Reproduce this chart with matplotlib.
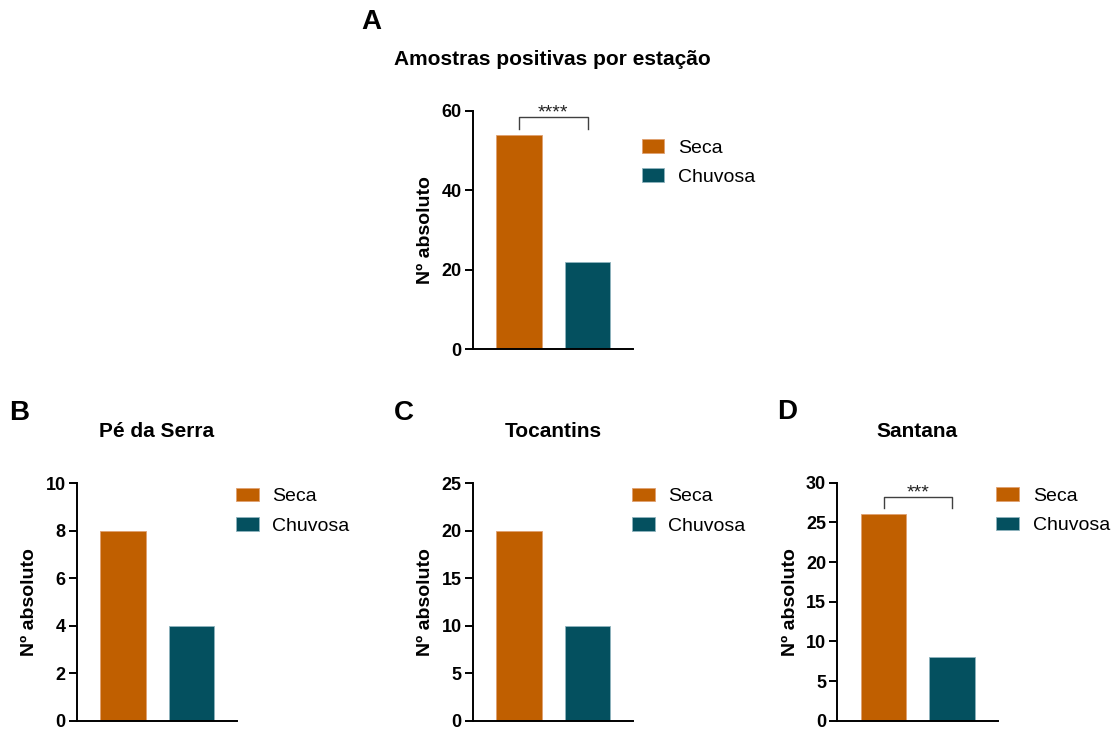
import matplotlib
matplotlib.use("Agg")
import matplotlib.pyplot as plt

plt.rcParams["font.family"] = ["Liberation Sans", "DejaVu Sans"]

# ---- data -------------------------------------------------------------
categories = ["Seca", "Chuvosa"]
colors = ["#C05F00", "#04505F"]
edge_colors = ["#E0A070", "#8FB4BE"]

total_counts = [54, 22]
pe_da_serra_counts = [8, 4]
tocantins_counts = [20, 10]
santana_counts = [26, 8]

panel_titles = ["Amostras positivas por estação", "Pé da Serra", "Tocantins", "Santana"]
panel_letters = ["A", "B", "C", "D"]
y_limits = [60, 10, 25, 30]
y_steps = [20, 2, 5, 5]
significance = ["****", None, None, "***"]

# ---- figure -----------------------------------------------------------
W, H = 1116, 729
fig = plt.figure(figsize=(W / 100, H / 100), dpi=100)


def add_axes_px(left, top, right, bottom):
    return fig.add_axes([left / W, 1 - bottom / H, (right - left) / W, (bottom - top) / H])


axes_boxes = [
    (472.7, 110.7, 633.0, 349.0),
    (76.7, 483.3, 237.0, 720.7),
    (472.7, 483.3, 633.0, 720.7),
    (837.3, 482.7, 997.6, 720.7),
]
legend_anchor = [(1.054, 0.881), (0.993, 0.981), (0.993, 0.981), (0.993, 0.981)]
letter_pos = [(361, 22), (9, 413), (394, 412.5), (777, 412)]

datasets = [total_counts, pe_da_serra_counts, tocantins_counts, santana_counts]
bar_width = 0.664
x = [0, 1]

for k, values in enumerate(datasets):
    ax = add_axes_px(*axes_boxes[k])
    for i, cat in enumerate(categories):
        ax.bar(x[i], values[i], width=bar_width, color=colors[i],
               edgecolor=edge_colors[i], linewidth=0.6, label=cat)

    ax.set_xlim(-0.679, 1.664)
    ymax = y_limits[k]
    ax.set_ylim(0, ymax)
    ax.set_yticks(range(0, ymax + 1, y_steps[k]))
    ax.set_xticks([])

    for s in ["top", "right"]:
        ax.spines[s].set_visible(False)
    for s in ["left", "bottom"]:
        ax.spines[s].set_linewidth(1.4)
    ax.tick_params(axis="y", length=6, width=1.4, pad=2, labelsize=13)
    for lab in ax.get_yticklabels():
        lab.set_fontweight("bold")

    ax.set_ylabel("Nº absoluto", fontsize=14, fontweight="bold")
    ax.yaxis.set_label_coords(-0.24, 0.5)

    ax.annotate(panel_titles[k], xy=(0.5, 1), xycoords="axes fraction",
                xytext=(0, 37), textcoords="offset points",
                ha="center", va="center", fontsize=15, fontweight="bold")

    # significance bracket
    if significance[k]:
        top = max(values) + ymax * 0.072
        leg = max(values) + ymax * 0.025
        ax.plot([x[0], x[0], x[1], x[1]], [leg, top, top, leg],
                color="#404040", linewidth=1.0, clip_on=False)
        ax.annotate(significance[k], xy=((x[0] + x[1]) / 2, top),
                    xytext=(0, 3), textcoords="offset points",
                    ha="center", va="center", fontsize=14, color="#222222")

    ax.legend(loc="upper left", bbox_to_anchor=legend_anchor[k], frameon=False,
              borderaxespad=0, borderpad=0, fontsize=14,
              handlelength=1.165, handleheight=0.69, handletextpad=0.7,
              labelspacing=0.61)

    lx, ly = letter_pos[k]
    fig.text(lx / W, 1 - ly / H, panel_letters[k], ha="left", va="center",
             fontsize=20, fontweight="bold")

fig.savefig("out.png", dpi=100)
